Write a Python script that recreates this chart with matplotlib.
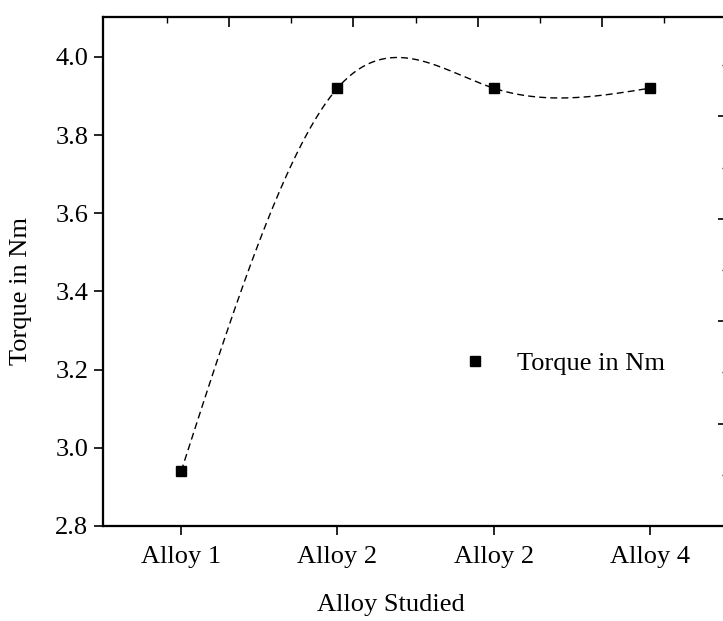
import numpy as np
import matplotlib as mpl
mpl.use('Agg')
from matplotlib import pyplot as plt

alloys = ['Alloy 1', 'Alloy 2', 'Alloy 2', 'Alloy 4']
torque = [2.94, 3.92, 3.92, 3.92]


def natural_spline(x, y, n=200):
    # natural cubic spline through the points (equal spacing not assumed)
    x = np.asarray(x, float)
    y = np.asarray(y, float)
    k = len(x)
    h = np.diff(x)
    A = np.zeros((k, k))
    b = np.zeros(k)
    A[0, 0] = A[-1, -1] = 1.0
    for i in range(1, k - 1):
        A[i, i - 1] = h[i - 1]
        A[i, i] = 2 * (h[i - 1] + h[i])
        A[i, i + 1] = h[i]
        b[i] = 6 * ((y[i + 1] - y[i]) / h[i] - (y[i] - y[i - 1]) / h[i - 1])
    M = np.linalg.solve(A, b)
    xs = np.linspace(x[0], x[-1], n)
    idx = np.clip(np.searchsorted(x, xs) - 1, 0, k - 2)
    x0, x1 = x[idx], x[idx + 1]
    hh = x1 - x0
    t0, t1 = x1 - xs, xs - x0
    ys = (M[idx] * t0**3 + M[idx + 1] * t1**3) / (6 * hh) \
        + (y[idx] / hh - M[idx] * hh / 6) * t0 \
        + (y[idx + 1] / hh - M[idx + 1] * hh / 6) * t1
    return xs, ys


plt.rcParams['font.family'] = ['Liberation Serif', 'DejaVu Serif']
plt.rcParams['axes.linewidth'] = 1.5

fig = plt.figure(figsize=(7.23, 6.21), dpi=100)
ax = fig.add_axes([0.1425, 0.153, 0.8645, 0.8196])

pos = np.arange(1, len(alloys) + 1)
xs, ys = natural_spline(pos, torque)
ax.plot(xs, ys, color='black', linestyle=(0, (5, 3)), linewidth=1.0)
ax.plot(pos, torque, linestyle='none', marker='s', markersize=7.5,
        color='black', label='Torque in Nm')

ax.set_xlim(0.5, 4.5)
ax.set_ylim(2.8, 4.102)
ax.set_xticks(pos)
ax.set_xticklabels(alloys)
ax.set_yticks(np.arange(2.8, 4.01, 0.2))
ax.yaxis.set_major_formatter(mpl.ticker.FormatStrFormatter('%.1f'))
ax.tick_params(axis='both', direction='out', length=6.5, width=1.2,
               labelsize=19)
ax.tick_params(axis='x', pad=8)
ax.tick_params(axis='y', pad=4)

ax.set_xlabel('Alloy Studied', fontsize=19)
ax.set_ylabel('Torque in Nm', fontsize=19)
ax.xaxis.set_label_coords(0.46, -0.133)
ax.yaxis.set_label_coords(-0.113, 0.462)

# secondary axes: only their inward ticks are shown
top = ax.twiny()
top.set_xlim(-1.03, 9.03)
top.set_xticks(np.arange(0, 10, 2) + 1)
top.set_xticks(np.arange(0, 10, 2), minor=True)
top.tick_params(axis='x', which='major', direction='in', length=7,
                width=1.2, labeltop=False)
top.tick_params(axis='x', which='minor', direction='in', length=4,
                width=1.0)

right = ax.twinx()
right.set_ylim(0, 4.97)
right.set_yticks(np.arange(0, 5))
right.set_yticks(np.arange(0.5, 5, 1), minor=True)
right.tick_params(axis='y', which='major', direction='in', length=7,
                  width=1.2, labelright=False)
right.tick_params(axis='y', which='minor', direction='in', length=4,
                  width=1.0)

ax.legend(loc='center left', bbox_to_anchor=(0.532, 0.32), frameon=False,
          fontsize=19, handlelength=1.2, handletextpad=1.0)

plt.savefig('out.png', dpi=100)
